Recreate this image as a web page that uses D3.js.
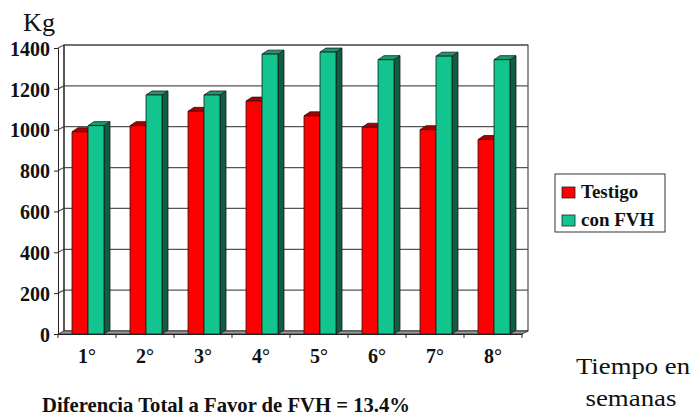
<!DOCTYPE html>
<html><head><meta charset="utf-8">
<script src="https://cdn.jsdelivr.net/npm/d3@7"></script>
<style>body{margin:0;background:#fff}svg{display:block}svg text{font-family:"Liberation Serif" !important}</style>
</head><body><svg id="c" width="693" height="416" font-family="Liberation Serif"></svg>
<script>
const categories = ["1°","2°","3°","4°","5°","6°","7°","8°"];
const seriesNames = ["Testigo","con FVH"];
const testigo = [990, 1020, 1090, 1140, 1068, 1012, 1000, 952];
const conFVH = [1020, 1170, 1170, 1370, 1380, 1343, 1360, 1343];
const yTicks = [0,200,400,600,800,1000,1200,1400];
const frontCol = ["#ff0000","#12c48e"];
const topCol = ["#a80000","#1a9a70"];
const sideCol = ["#8a0000","#0d5e43"];
const SERIF = "Liberation Serif";

const svg = d3.select("#c");
const x0 = 58, x1 = 522, yb = 334, yt = 48;
const wdx = 6, wdy = -3; // wall depth
const bdx = 6, bdy = -4; // bar depth
const y = d3.scaleLinear().domain([0,1400]).range([yb, yt]);
const x = d3.scaleBand().domain(categories).range([x0, x1]);
const xs = d3.scaleBand().domain(seriesNames).range([14, 46]);

const g = svg.append("g");
g.append("rect").attr("x", x0+wdx).attr("y", y(1400)+wdy).attr("width", x1-x0).attr("height", y(0)-y(1400)).attr("fill","#fff").attr("stroke","#222").attr("stroke-width",1);
g.append("path").attr("d", `M${x0},${yb}L${x1},${yb}L${x1+wdx},${yb+wdy}L${x0+wdx},${yb+wdy}Z`).attr("fill","#9a9a9a").attr("stroke","#222").attr("stroke-width",0.8);
yTicks.forEach(v => {
  if (v === 0) return;
  g.append("path").attr("d", `M${x0},${y(v)}L${x0+wdx},${y(v)+wdy}L${x1+wdx},${y(v)+wdy}`).attr("fill","none").attr("stroke", "#555").attr("stroke-width", 1.2);
});
g.append("line").attr("x1",x0+wdx).attr("x2",x0+wdx).attr("y1",y(1400)+wdy).attr("y2",yb+wdy).attr("stroke","#222");

const data = [testigo, conFVH];
categories.forEach((c, i) => {
  seriesNames.forEach((s, k) => {
    const v = data[k][i];
    const xl = x(c) + xs(s), w = xs.bandwidth(), yv = y(v);
    const bg = svg.append("g").attr("stroke","#1a1a1a").attr("stroke-width",0.8).attr("stroke-linejoin","round");
    bg.append("path").attr("d", `M${xl+w},${yv}L${xl+w+bdx},${yv+bdy}L${xl+w+bdx},${yb+bdy}L${xl+w},${yb}Z`).attr("fill", sideCol[k]);
    bg.append("path").attr("d", `M${xl},${yv}L${xl+bdx},${yv+bdy}L${xl+w+bdx},${yv+bdy}L${xl+w},${yv}Z`).attr("fill", topCol[k]);
    bg.append("rect").attr("x", xl).attr("y", yv).attr("width", w).attr("height", yb-yv).attr("fill", frontCol[k]);
  });
});

const ya = svg.append("g").attr("transform", `translate(${x0},0)`)
  .call(d3.axisLeft(y).tickValues(yTicks).tickSize(4).tickPadding(4).tickFormat(d3.format("d")));
ya.attr("font-family", SERIF);
ya.select(".domain").attr("stroke","#222");
ya.selectAll("line").attr("stroke","#222");
ya.selectAll("text").style("font-family",SERIF,"important").style("font-size","20px").style("font-weight","bold").attr("fill","#111").attr("dy","0.36em");

const xa = svg.append("g").attr("transform", `translate(0,${yb})`)
  .call(d3.axisBottom(x).tickSize(0).tickPadding(14));
xa.attr("font-family", SERIF);
xa.select(".domain").attr("stroke","#222");
xa.selectAll("text").style("font-family",SERIF,"important").style("font-size","20px").style("font-weight","bold").attr("fill","#111").attr("y", 29).attr("dy", 0);
categories.concat(["end"]).forEach((c, i) => {
  const xx = i < categories.length ? x(c) : x1;
  svg.append("line").attr("x1",xx).attr("x2",xx).attr("y1",yb).attr("y2",yb+4).attr("stroke","#222");
});

function txt(xx, yy, s, size, bold, anchor, len) {
  const t = svg.append("text").attr("x",xx).attr("y",yy).attr("fill","#111").attr("font-family",SERIF)
    .style("font-family",SERIF,"important").style("font-size",size+"px").style("font-weight",bold?"bold":"normal")
    .attr("text-anchor",anchor||"start").text(s);
  if (len) t.attr("textLength",len).attr("lengthAdjust","spacingAndGlyphs");
  return t;
}
txt(23, 31, "Kg", 25, false, "start", 32);
txt(226, 412, "Diferencia Total a Favor de FVH = 13.4%", 21, true, "middle", 368);
txt(633, 374, "Tiempo en", 24, false, "middle", 114);
txt(631, 406, "semanas", 24, false, "middle", 91);

const lg = svg.append("g");
lg.append("rect").attr("x",555).attr("y",174).attr("width",110).attr("height",58).attr("fill","#fff").attr("stroke","#333");
seriesNames.forEach((s, k) => {
  const yy = 187 + k*28;
  lg.append("rect").attr("x",562).attr("y",yy).attr("width",13).attr("height",11).attr("fill",frontCol[k]).attr("stroke","#222").attr("stroke-width",0.8);
  txt(581, yy+11, s, 19, true, "start");
});
</script></body></html>
